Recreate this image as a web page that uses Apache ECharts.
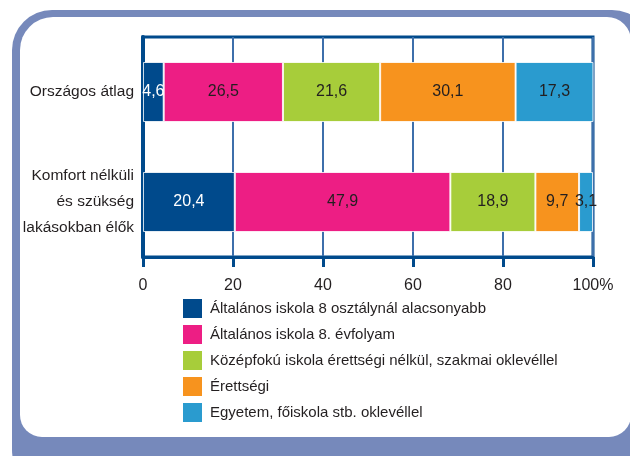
<!DOCTYPE html>
<html>
<head>
<meta charset="utf-8">
<script src="https://cdn.jsdelivr.net/npm/echarts@6/dist/echarts.min.js"></script>
<style>
  html, body { margin: 0; padding: 0; background: #fff; }
  #chart { width: 630px; height: 456px; }
</style>
</head>
<body>
<div id="chart"></div>
<script>
// Iskolai végzettség megoszlása — 100%-os halmozott sávdiagram
var categories = ['Országos átlag', 'Komfort nélküli\nés szükség\nlakásokban élők'];
var seriesNames = [
  'Általános iskola 8 osztálynál alacsonyabb',
  'Általános iskola 8. évfolyam',
  'Középfokú iskola érettségi nélkül, szakmai oklevéllel',
  'Érettségi',
  'Egyetem, főiskola stb. oklevéllel'
];
var values = [
  [4.6, 20.4],
  [26.5, 47.9],
  [21.6, 18.9],
  [30.1, 9.7],
  [17.3, 3.1]
];
var colors = ['#004a8c', '#ed1e84', '#a7cd3a', '#f7931e', '#2a9bcf'];
var labelColors = ['#fff', '#231f20', '#231f20', '#231f20', '#231f20'];

var navy = '#004a8c';
var ink = '#231f20';
var frame = '#7689bb';
var font = '"Liberation Sans", Arial, sans-serif';

var chart = echarts.init(document.getElementById('chart'), null, { renderer: 'canvas' });

var series = seriesNames.map(function(name, i) {
  return {
    name: name,
    type: 'bar',
    stack: 'total',
    barWidth: 60,
    data: values[i],
    itemStyle: { color: colors[i], borderColor: 'rgba(255,255,255,0.8)', borderWidth: 1 },
    label: {
      show: true,
      position: 'inside',
      color: labelColors[i],
      fontFamily: font,
      fontSize: 16,
      formatter: function(p) { return String(p.value).replace('.', ','); }
    }
  };
});

chart.setOption({
  animation: false,
  backgroundColor: '#fff',
  graphic: [
    { type: 'rect', z: -10, shape: { x: 12, y: 10, width: 640, height: 480, r: 40 }, style: { fill: frame } },
    { type: 'rect', z: -9, shape: { x: 20, y: 17, width: 611, height: 420, r: [33, 24, 22, 22] }, style: { fill: '#fff' } }
  ],
  grid: {
    left: 143, top: 37, width: 450, height: 220,
    show: true, borderColor: navy, borderWidth: 3, backgroundColor: 'transparent'
  },
  legend: {
    orient: 'vertical',
    left: 183, top: 299, padding: 0,
    itemWidth: 19, itemHeight: 19, itemGap: 7,
    icon: 'rect',
    itemStyle: { borderWidth: 0 },
    textStyle: { color: ink, fontFamily: font, fontSize: 15, padding: [0, 0, 0, 3] },
    data: seriesNames
  },
  xAxis: {
    type: 'value',
    min: 0, max: 100, interval: 20,
    axisLine: { show: true, lineStyle: { color: navy, width: 3 } },
    axisTick: { show: true, inside: false, length: 10, lineStyle: { color: navy, width: 3 } },
    axisLabel: {
      color: ink, fontFamily: font, fontSize: 16, margin: 21,
      formatter: function(v) { return v === 100 ? '100%' : String(v); }
    },
    splitLine: { show: true, lineStyle: { color: '#3d6fab', width: 2 } }
  },
  yAxis: {
    type: 'category',
    inverse: true,
    data: categories,
    axisLine: { show: true, lineStyle: { color: navy, width: 4 } },
    axisTick: { show: false },
    axisLabel: { color: ink, fontFamily: font, fontSize: 15.5, lineHeight: 26, margin: 9, align: 'right' }
  },
  series: series
});
</script>
</body>
</html>
